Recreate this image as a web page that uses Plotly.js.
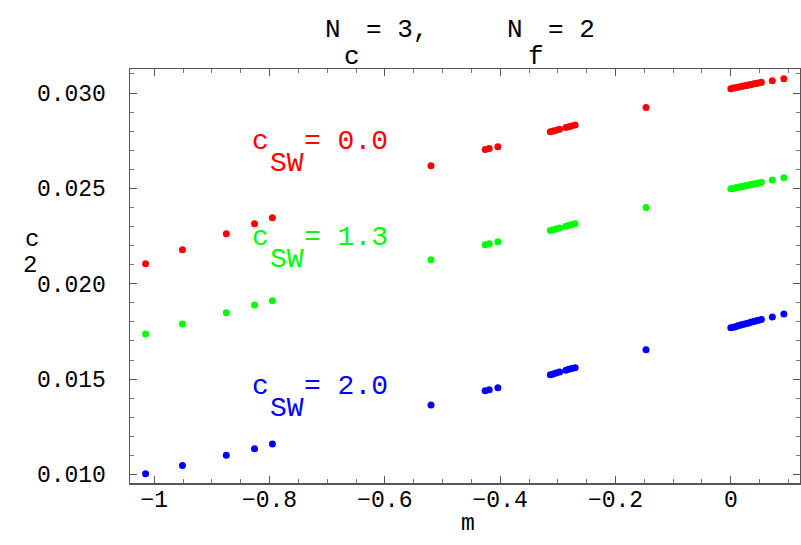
<!DOCTYPE html>
<html>
<head>
<meta charset="utf-8">
<script src="https://cdn.plot.ly/plotly-3.0.1.min.js"></script>
<style>html,body{margin:0;padding:0;background:#fff;}#chart{width:801px;height:545px;}</style>
</head>
<body>
<div id="chart"></div>
<script>
// bare quark mass m (shared by all three c_SW series)
const mass = [-1.015, -0.951, -0.875, -0.826, -0.795,
  -0.520,
  -0.426, -0.419, -0.404,
  -0.313, -0.308, -0.303, -0.297, -0.286, -0.281, -0.276, -0.270,
  -0.147,
  0.000, 0.004, 0.008, 0.012, 0.016, 0.020, 0.024, 0.028, 0.032, 0.036, 0.040, 0.044, 0.048, 0.053,
  0.072, 0.092];

const c2_csw00 = [0.02105, 0.02178, 0.02262, 0.02315, 0.02346,
  0.02619,
  0.02704, 0.02709, 0.02718,
  0.02797, 0.02801, 0.02805, 0.02810, 0.02819, 0.02823, 0.02827, 0.02832,
  0.02924,
  0.03023, 0.03026, 0.03028, 0.03030, 0.03033, 0.03035, 0.03038, 0.03040, 0.03043, 0.03045, 0.03048, 0.03050, 0.03053, 0.03056,
  0.03064, 0.03075];

const c2_csw13 = [0.01736, 0.01789, 0.01848, 0.01888, 0.01911,
  0.02126,
  0.02204, 0.02209, 0.02220,
  0.02279, 0.02283, 0.02287, 0.02292, 0.02301, 0.02306, 0.02310, 0.02315,
  0.02400,
  0.02498, 0.02500, 0.02503, 0.02505, 0.02508, 0.02510, 0.02513, 0.02515, 0.02518, 0.02520, 0.02523, 0.02525, 0.02528, 0.02531,
  0.02544, 0.02556];

const c2_csw20 = [0.01004, 0.01047, 0.01100, 0.01135, 0.01159,
  0.01364,
  0.01439, 0.01444, 0.01455,
  0.01523, 0.01527, 0.01532, 0.01537, 0.01546, 0.01551, 0.01555, 0.01560,
  0.01654,
  0.01769, 0.01772, 0.01775, 0.01779, 0.01782, 0.01786, 0.01789, 0.01792, 0.01796, 0.01799, 0.01802, 0.01806, 0.01809, 0.01813,
  0.01825, 0.01841];

const seriesNames = ["c_SW = 0.0", "c_SW = 1.3", "c_SW = 2.0"];
const seriesColors = ["#ff0000", "#00ff00", "#0000ff"];
const seriesValues = [c2_csw00, c2_csw13, c2_csw20];
const labelValues = ["0.0", "1.3", "2.0"];

const xTickVals = [-1, -0.8, -0.6, -0.4, -0.2, 0];
const xTickText = ["\u22121", "\u22120.8", "\u22120.6", "\u22120.4", "\u22120.2", "0"];
const yTickVals = [0.010, 0.015, 0.020, 0.025, 0.030];

const W = 801, H = 545;
const L = 130, R = 800, T = 69, B = 483;
const px = x => (x - L) / (R - L);
const py = y => (B - y) / (B - T);
const FONT = "Liberation Mono, Courier New, monospace";

const traces = seriesValues.map((vals, i) => ({
  type: "scatter", mode: "markers", x: mass, y: vals, name: seriesNames[i],
  marker: {color: seriesColors[i], size: 7, line: {width: 0}},
  showlegend: false, cliponaxis: false
}));

const ann = [];
function txt(x, y, text, size, color, xanchor) {
  ann.push({xref: "paper", yref: "paper", x: px(x), y: py(y), text: text,
    showarrow: false, xanchor: xanchor || "left", yanchor: "middle",
    font: {family: FONT, size: size, color: color}});
}
// title
txt(323, 30, "N", 26, "#000");
txt(364, 30, "= 3,", 26, "#000");
txt(342, 57, "c", 26, "#000");
txt(505, 30, "N", 26, "#000");
txt(546, 30, "= 2", 26, "#000");
txt(526, 57, "f", 26, "#000");
// axis titles
txt(468, 524, "m", 23, "#000", "center");
txt(32, 239, "c", 24, "#000", "center");
txt(30, 265, "2", 24, "#000", "center");
// series labels
const labelY = [141, 237, 386];
labelValues.forEach((v, i) => {
  txt(250, labelY[i], "c", 28, seriesColors[i]);
  txt(268, labelY[i] + 22, "SW", 28, seriesColors[i]);
  txt(302, labelY[i], "= " + v, 28, seriesColors[i]);
});

const axisCommon = {
  showline: true, linecolor: "#555", linewidth: 1.5, mirror: "allticks",
  ticks: "inside", ticklen: 7, tickwidth: 1, tickcolor: "#555",
  showgrid: false, zeroline: false,
  tickfont: {family: FONT, size: 23, color: "#000"}
};

const layout = {
  width: W, height: H,
  margin: {l: L, r: W - R, t: T, b: H - B},
  paper_bgcolor: "#fff", plot_bgcolor: "#fff",
  xaxis: Object.assign({}, axisCommon, {
    range: [-1.042, 0.12], tickmode: "array", tickvals: xTickVals, ticktext: xTickText,
    ticklabelstandoff: -5,
    minor: {dtick: 0.05, tick0: 0, ticks: "inside", ticklen: 4, tickcolor: "#777", showgrid: false}
  }),
  yaxis: Object.assign({}, axisCommon, {
    range: [0.00955, 0.03126], tickmode: "array", tickvals: yTickVals, tickformat: ".3f",
    ticklabelstandoff: 18,
    minor: {dtick: 0.001, tick0: 0, ticks: "inside", ticklen: 4, tickcolor: "#777", showgrid: false}
  }),
  annotations: ann
};

Plotly.newPlot("chart", traces, layout, {displayModeBar: false, staticPlot: true});
</script>
</body>
</html>
